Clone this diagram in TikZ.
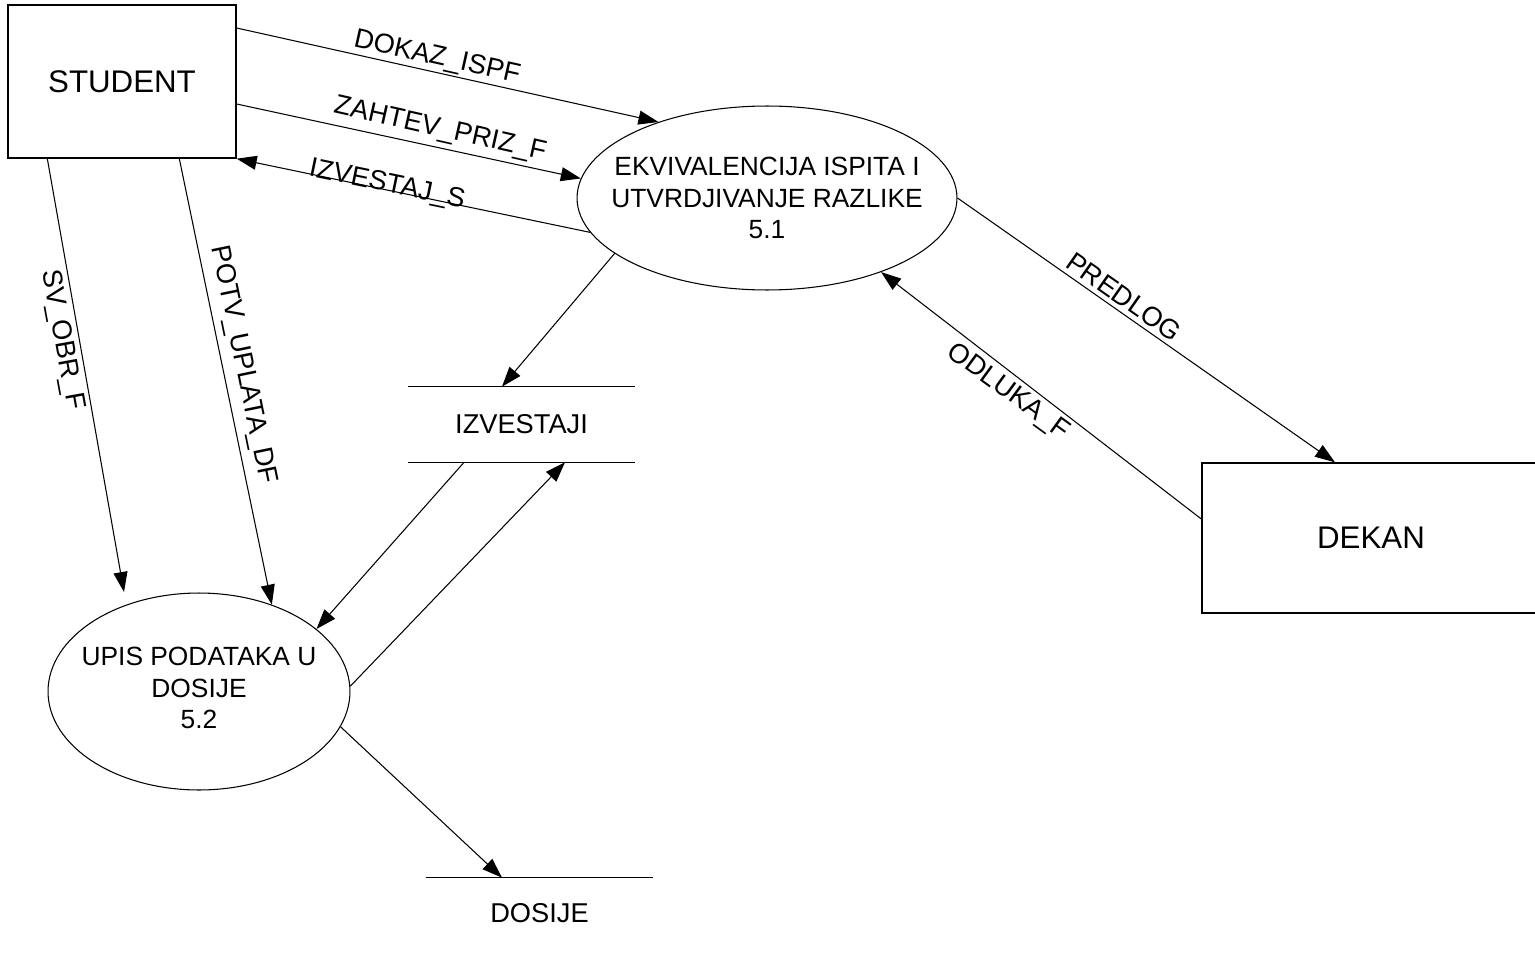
\documentclass[tikz,border=0pt]{standalone}
\usepackage{fontspec}
\setmainfont{Liberation Sans}
\usetikzlibrary{shapes.geometric,arrows.meta,calc}

\begin{document}
\begin{tikzpicture}
  [x=0.02cm,y=-0.02cm,
   entity/.style={draw,rectangle,line width=0.8pt,font=\fontsize{17.8}{21}\selectfont},
   process/.style={draw,ellipse,line width=0.6pt,inner sep=0pt},
   ptext/.style={align=center,font=\fontsize{15}{18.1}\selectfont},
   store/.style={rectangle,minimum width=4.54cm,font=\fontsize{15.5}{19}\selectfont},
   flow/.style={line width=0.6pt,-{Triangle[length=0.4cm,width=0.28cm]}},
   lbl/.style={font=\fontsize{15.5}{19}\selectfont,inner sep=0pt}]

  \useasboundingbox (0,0) rectangle (1535,953);

  % external entities
  \node[entity,minimum width=4.56cm,minimum height=3.06cm] (student) at (122,81.5) {STUDENT};
  \node[entity,minimum width=6.76cm,minimum height=3cm] (dekan) at (1371,538) {DEKAN};

  % processes
  \node[process,minimum width=7.6cm,minimum height=3.68cm] (p51) at (767,198) {};
  \node[ptext] (t51) at (767,198) {EKVIVALENCIJA ISPITA I\\UTVRDJIVANJE RAZLIKE\\5.1};
  \node[process,minimum width=6.04cm,minimum height=3.94cm] (p52) at (199,691.5) {};
  \node[ptext] (t52) at (199,688) {UPIS PODATAKA U\\DOSIJE\\5.2};

  % data stores
  \node[store,minimum height=1.5cm] (izv) at (521.5,424.5) {IZVESTAJI};
  \draw[line width=0.6pt] (izv.north west) -- (izv.north east);
  \draw[line width=0.6pt] (izv.south west) -- (izv.south east);
  \node[store,minimum height=1.4cm] (dos) at (539.5,913) {DOSIJE};
  \draw[line width=0.6pt] (dos.north west) -- (dos.north east);

  \coordinate (svend) at (124,592);

  % flows
  \draw[flow] ($(student.east)+(0,-53.5)$) -- (p51.145.8);
  \draw[flow] ($(student.east)+(0,22.5)$) -- (p51.174.9);
  \draw[flow] (p51.191.7) -- (student.south east);
  \draw[flow] ($(student.south west)+(40,0)$) -- (svend);
  \draw[flow] ($(student.south west)+(172,0)$) -- (p52.50);
  \draw[flow] (p51.200) -- ($(izv.north)+(-19.5,0)$);
  \draw[flow] ($(izv.south)+(-57.5,0)$) -- (p52.28.3);
  \draw[flow] (p52.2) -- ($(izv.south)+(43.5,0)$);
  \draw[flow] (p52.-14.2) -- ($(dos.north)+(-37.5,0)$);
  \draw[flow] (p51.-0.6) -- ($(dekan.north)+(-36,0)$);
  \draw[flow] ($(dekan.west)+(0,-19)$) -- (p51.-33.6);

  % flow labels
  \node[lbl,rotate=-12.6] (ldokaz) at (437,58) {DOKAZ\_ISPF};
  \node[lbl,rotate=-12.7] (lzahtev) at (440,130) {ZAHTEV\_PRIZ\_F};
  \node[lbl,rotate=-11.7] (lizv) at (387,185) {IZVESTAJ\_S};
  \node[lbl,rotate=-79.7] (lsv) at (62,340) {SV\_OBR\_F};
  \node[lbl,rotate=-78.4] (lpotv) at (243,365) {POTV\_UPLATA\_DF};
  \node[lbl,rotate=-35] (lpred) at (1124,297) {PREDLOG};
  \node[lbl,rotate=-36.1] (lodl) at (1008,392) {ODLUKA\_F};
\end{tikzpicture}
\end{document}
